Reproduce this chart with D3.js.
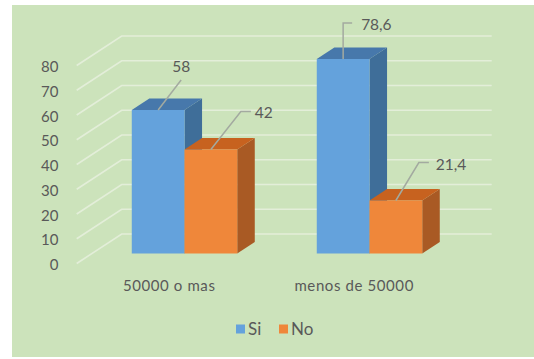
<!DOCTYPE html>
<html>
<head>
<meta charset="utf-8">
<script src="https://cdn.jsdelivr.net/npm/d3@7"></script>
<style>
  html, body { margin: 0; padding: 0; background: #ffffff; }
  svg { display: block; }
  text { font-family: Lato, "Open Sans", sans-serif; fill: #595959; }
</style>
</head>
<body>
<svg id="chart" width="534" height="359"></svg>
<script>
// Survey results by income group (percent)
const categories = ["50000 o mas", "menos de 50000"];
const series = ["Si", "No"];
const siValues = [58, 78.6];
const noValues = [42, 21.4];
const valueLabels = [["58", "42"], ["78,6", "21,4"]];
const yTicks = [0, 10, 20, 30, 40, 50, 60, 70, 80];

const seriesValues = { Si: siValues, No: noValues };

// face colours: front, side, top
const palette = {
  Si: { front: "#64a2dc", side: "#3f6e99", top: "#4778ab" },
  No: { front: "#ef873a", side: "#a95a24", top: "#c7621f" }
};

// hand-placed data label leaders (offsets from bar top, front-centre)
const leaderLayout = [
  [ { pts: [[0,0],[23,-30]], label: [23,-38], anchor: "middle" },
    { pts: [[0,0],[30,-38],[40,-38]], label: [44,-32], anchor: "start" } ],
  [ { pts: [[0,0],[0,-36],[9,-36]], label: [18,-29], anchor: "start" },
    { pts: [[0,0],[23,-38],[33,-38]], label: [40,-31], anchor: "start" } ]
];

const svg = d3.select("#chart");

// chart area background
svg.append("rect")
  .attr("x", 12).attr("y", 5).attr("width", 522).attr("height", 352)
  .attr("fill", "#cce3bb");

// oblique 3D projection: depth z in [0,1]
const depth = { dx: 45, dy: -29.5 };
const zFront = 0.34, zBack = 0.73;

const y = d3.scaleLinear().domain([0, 80]).range([263.5, 65.5]);
const x0 = d3.scaleBand().domain(categories).range([76.7, 446.7]);
const groupW = x0.bandwidth() * 0.57;
const x1 = d3.scaleBand().domain(series)
  .range([(x0.bandwidth() - groupW) / 2, (x0.bandwidth() + groupW) / 2]);

const P = (x, v, z) => [x + depth.dx * z, y(v) + depth.dy * z];
const line = d3.line();

// gridlines: diagonal on the side wall, horizontal on the back wall
const grid = svg.append("g")
  .attr("stroke", "#e3eed9").attr("stroke-width", 1.6).attr("fill", "none");
const [xL, xR] = x0.range();
yTicks.forEach(t => {
  grid.append("path").attr("d", line([P(xL, t, 0), P(xL, t, 1), P(xR, t, 1)]));
});

// y-axis tick labels
const yAxis = d3.axisLeft(y).tickValues(yTicks).tickSize(0).tickPadding(0);
const yg = svg.append("g").attr("transform", "translate(58.5,1.2)").call(yAxis);
yg.select(".domain").remove();
yg.selectAll("text").attr("font-size", 15).attr("font-family", null).attr("fill", "#595959");

// bars
const barsG = svg.append("g");
categories.forEach((c, ci) => {
  series.forEach(s => {
    const v = seriesValues[s][ci];
    const xl = x0(c) + x1(s), xr = xl + x1.bandwidth();
    const col = palette[s];
    const g = barsG.append("g");
    g.append("path").attr("fill", col.side)
      .attr("d", line([P(xr,0,zFront), P(xr,0,zBack), P(xr,v,zBack), P(xr,v,zFront)]) + "Z");
    g.append("path").attr("fill", col.top)
      .attr("d", line([P(xl,v,zFront), P(xr,v,zFront), P(xr,v,zBack), P(xl,v,zBack)]) + "Z");
    g.append("path").attr("fill", col.front)
      .attr("d", line([P(xl,0,zFront), P(xr,0,zFront), P(xr,v,zFront), P(xl,v,zFront)]) + "Z");
  });
});

// data labels with leader lines
const labelsG = svg.append("g");
categories.forEach((c, ci) => {
  series.forEach((s, si) => {
    const v = seriesValues[s][ci];
    const cx = x0(c) + x1(s) + x1.bandwidth() / 2;
    const [ax, ay] = P(cx, v, zFront);
    const lay = leaderLayout[ci][si];
    labelsG.append("path")
      .attr("d", line(lay.pts.map(([dx, dy]) => [ax + dx, ay + dy])))
      .attr("fill", "none").attr("stroke", "#a3aaa0").attr("stroke-width", 1.5);
    labelsG.append("text")
      .attr("x", ax + lay.label[0]).attr("y", ay + lay.label[1])
      .attr("text-anchor", lay.anchor).attr("font-size", 15.5)
      .text(valueLabels[ci][si]);
  });
});

// category labels along the front edge
svg.append("g").selectAll("text").data(categories).join("text")
  .attr("x", d => x0(d) + x0.bandwidth() / 2)
  .attr("y", 291)
  .attr("text-anchor", "middle").attr("font-size", 15)
  .attr("letter-spacing", 0.6)
  .text(d => d);

// legend
const legend = svg.append("g").attr("transform", "translate(236,329)");
const legendX = [0, 43];
series.forEach((s, i) => {
  const g = legend.append("g").attr("transform", `translate(${legendX[i]},0)`);
  g.append("rect").attr("x", 0).attr("y", -4.5).attr("width", 9).attr("height", 9)
    .attr("fill", palette[s].front);
  g.append("text").attr("x", 12).attr("y", 6).attr("font-size", 17).text(s);
});
</script>
</body>
</html>
